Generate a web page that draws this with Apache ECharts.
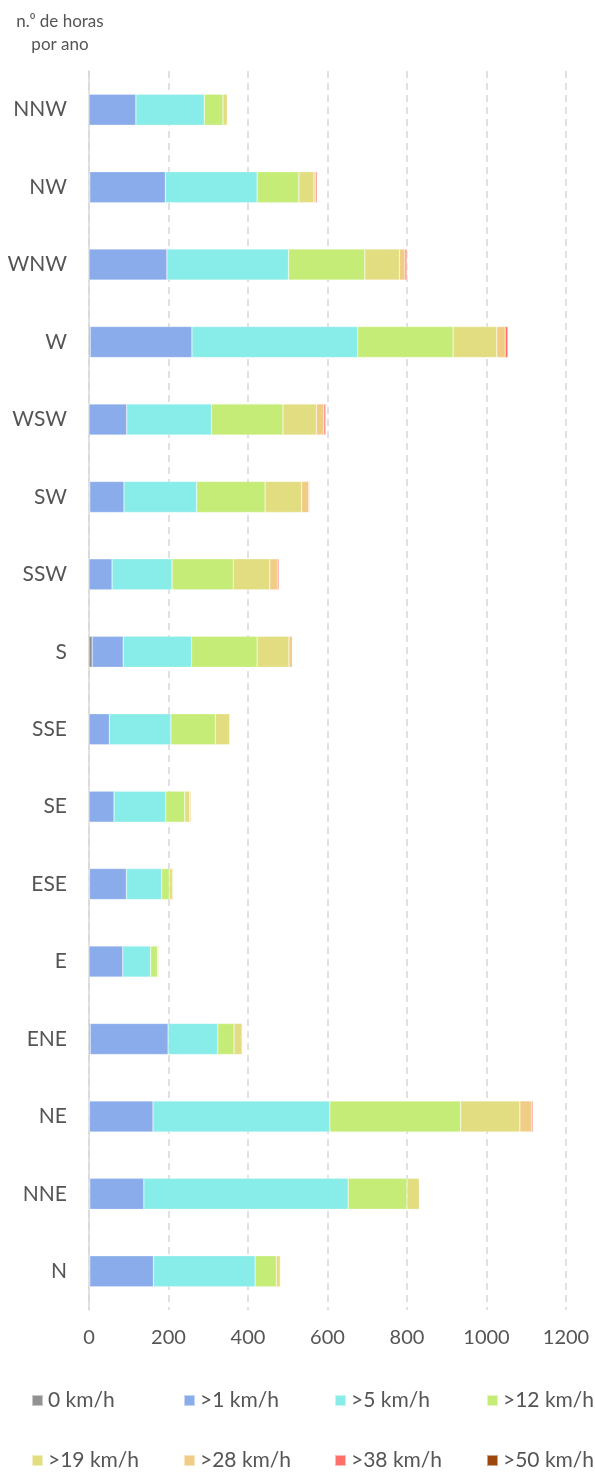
<!DOCTYPE html>
<html>
<head>
<meta charset="utf-8">
<script src="https://cdn.jsdelivr.net/npm/echarts@6/dist/echarts.min.js"></script>
<style>
  html, body { margin: 0; padding: 0; background: #fff; }
  #chart { width: 595px; height: 1472px; }
</style>
</head>
<body>
<div id="chart"></div>
<script>
// direções (de baixo para cima)
const directions = ['N', 'NNE', 'NE', 'ENE', 'E', 'ESE', 'SE', 'SSE', 'S', 'SSW', 'SW', 'WSW', 'W', 'WNW', 'NW', 'NNW']

const speedClasses = ['0 km/h', '>1 km/h', '>5 km/h', '>12 km/h', '>19 km/h', '>28 km/h', '>38 km/h', '>50 km/h']

// horas por ano, por classe de velocidade
const calm   = [2, 2, 1, 3, 0, 1, 0, 0, 8, 0, 2, 0, 3, 0, 2, 0]
const over1  = [160, 136, 160, 196, 85, 93, 63, 51, 78, 58, 86, 95, 256, 196, 190, 118]
const over5  = [256, 514, 445, 125, 70, 89, 130, 155, 172, 151, 183, 213, 417, 306, 231, 172]
const over12 = [53, 148, 329, 41, 17, 19, 48, 112, 165, 154, 172, 180, 240, 192, 105, 47]
const over19 = [10, 31, 149, 20, 3, 8, 12, 36, 80, 92, 92, 84, 110, 87, 38, 11]
const over28 = [2, 1, 29, 2, 2, 3, 4, 2, 9, 19, 18, 19, 21, 14, 4, 1]
const over38 = [0, 0, 4, 1, 0, 0, 0, 0, 0, 4, 2, 5, 7, 5, 4, 0]
const over50 = [0, 0, 0, 0, 0, 0, 0, 0, 0, 0, 0, 0, 1, 0, 0, 0]

const xTicks = [0, 200, 400, 600, 800, 1000, 1200]

const seriesValues = [calm, over1, over5, over12, over19, over28, over38, over50]
const colors = ['#929292', '#8aaceb', '#88ece8', '#c6ec78', '#e2dd80', '#f0cc85', '#ff706b', '#9c480c']

const chart = echarts.init(document.getElementById('chart'))

const textColor = '#555'
const fontFamily = 'Lato, "Noto Sans", sans-serif'

// legenda em grelha 4 x 2
const legendCols = [31, 183, 334, 486]
const legendRows = [1390, 1450]
const legends = speedClasses.map((name, i) => ({
  left: legendCols[i % 4],
  top: legendRows[Math.floor(i / 4)],
  padding: 0,
  icon: 'rect',
  itemWidth: 11,
  itemHeight: 11,
  textStyle: {
    color: textColor,
    fontFamily: fontFamily,
    fontSize: 21
  },
  selectedMode: false,
  data: [name]
}))

chart.setOption({
  animation: false,
  color: colors,
  textStyle: { fontFamily: fontFamily },
  graphic: [{
    type: 'text',
    x: 60,
    y: 10,
    style: {
      text: 'n.\u2070 de horas\npor ano',
      align: 'center',
      fill: textColor,
      font: '17px Lato, "Noto Sans", sans-serif',
      lineHeight: 23
    }
  }],
  legend: legends,
  grid: {
    left: 89,
    right: 29,
    top: 71,
    bottom: 162,
    containLabel: false
  },
  xAxis: {
    type: 'value',
    min: xTicks[0],
    max: xTicks[xTicks.length - 1],
    interval: 200,
    axisLine: { show: false },
    axisTick: { show: false },
    axisLabel: {
      color: textColor,
      fontSize: 20,
      margin: 18,
      formatter: (v) => String(v)
    },
    splitLine: {
      show: true,
      lineStyle: { color: '#d8d8d8', width: 1.5, type: [7, 5] }
    }
  },
  yAxis: {
    type: 'category',
    data: directions,
    axisLine: { show: true, lineStyle: { color: '#d9d9d9', width: 1.5 } },
    axisTick: { show: false },
    axisLabel: {
      color: textColor,
      fontSize: 21,
      margin: 22
    },
    splitLine: { show: false }
  },
  series: speedClasses.map((name, i) => ({
    name: name,
    type: 'bar',
    stack: 'total',
    barWidth: 31,
    itemStyle: {
      borderColor: 'rgba(255,255,255,0.5)',
      borderWidth: 0.5
    },
    data: seriesValues[i]
  }))
})
</script>
</body>
</html>
